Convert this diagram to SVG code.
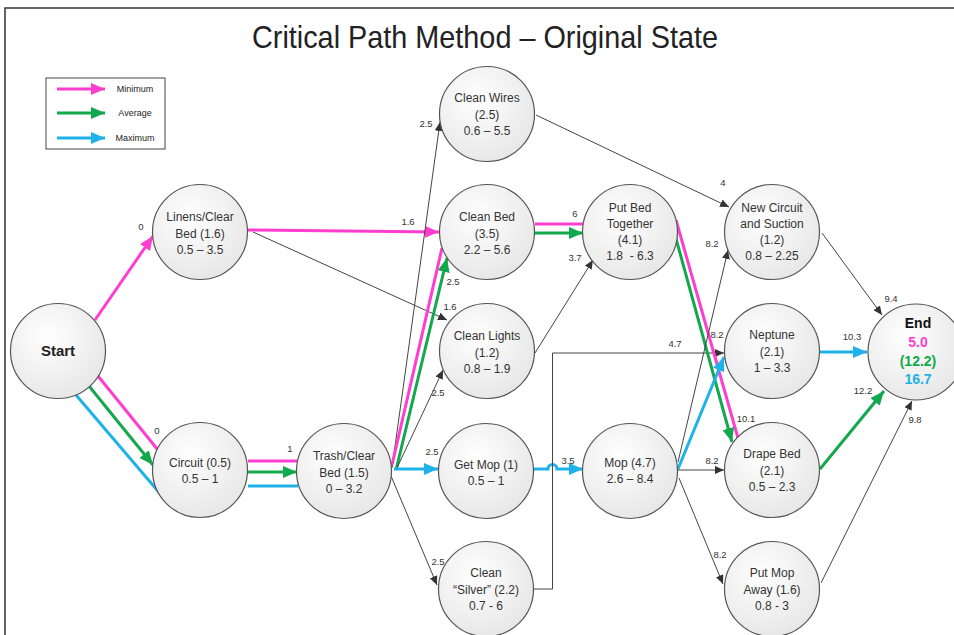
<svg xmlns="http://www.w3.org/2000/svg" width="954" height="635" viewBox="0 0 954 635">
<defs>
<radialGradient id="nodeFill" cx="40%" cy="35%" r="70%">
<stop offset="0" stop-color="#ffffff"/>
<stop offset="1" stop-color="#e6e6e6"/>
</radialGradient>
<marker id="aPink" markerUnits="userSpaceOnUse" markerWidth="14" markerHeight="12" viewBox="0 0 14 12" refX="14" refY="6" orient="auto"><path d="M0,0 L14,6 L0,12 z" fill="#ff3dcf"/></marker>
<marker id="aGreen" markerUnits="userSpaceOnUse" markerWidth="14" markerHeight="12" viewBox="0 0 14 12" refX="14" refY="6" orient="auto"><path d="M0,0 L14,6 L0,12 z" fill="#12a84e"/></marker>
<marker id="aBlue" markerUnits="userSpaceOnUse" markerWidth="14" markerHeight="12" viewBox="0 0 14 12" refX="14" refY="6" orient="auto"><path d="M0,0 L14,6 L0,12 z" fill="#1fb2e8"/></marker>
<marker id="aBlack" markerUnits="userSpaceOnUse" markerWidth="9" markerHeight="8" viewBox="0 0 9 8" refX="9" refY="4" orient="auto"><path d="M0,0 L9,4 L0,8 z" fill="#333"/></marker>
</defs>
<style>
.node circle{fill:url(#nodeFill);stroke:#555;stroke-width:1.2}
.node text{font-family:"Liberation Sans",Arial,sans-serif;font-size:12px;fill:#333;text-anchor:middle}
.lbl{font-family:"Liberation Sans",Arial,sans-serif;font-size:9.5px;fill:#333;text-anchor:middle}
.leg{font-family:"Liberation Sans",Arial,sans-serif;font-size:9px;fill:#222;text-anchor:middle}
.pk{stroke:#ff3dcf;stroke-width:3;fill:none}
.gr{stroke:#12a84e;stroke-width:3;fill:none}
.bl{stroke:#1fb2e8;stroke-width:3;fill:none}
.bk{stroke:#444;stroke-width:1;fill:none}
</style>
<rect x="0" y="0" width="954" height="635" fill="#ffffff"/>
<rect x="5" y="8" width="960" height="640" fill="none" stroke="#333" stroke-width="1.5"/>
<text x="485" y="48" font-family="'Liberation Sans',Arial,sans-serif" font-size="32" fill="#222" text-anchor="middle" textLength="466" lengthAdjust="spacingAndGlyphs">Critical Path Method – Original State</text>

<g id="legend">
<rect x="46" y="78" width="119" height="71" fill="#fff" stroke="#444" stroke-width="1"/>
<line x1="57" y1="89" x2="105" y2="89" class="pk" marker-end="url(#aPink)"/>
<line x1="57" y1="113" x2="105" y2="113" class="gr" marker-end="url(#aGreen)"/>
<line x1="57" y1="138" x2="105" y2="138" class="bl" marker-end="url(#aBlue)"/>
<text x="135" y="92" class="leg">Minimum</text>
<text x="135" y="116" class="leg">Average</text>
<text x="135" y="141" class="leg">Maximum</text>
</g>

<g id="connectors">
<line x1="95" y1="320" x2="153" y2="236" class="pk" marker-end="url(#aPink)"/>
<text x="141" y="230" class="lbl">0</text>
<line x1="98" y1="376" x2="158" y2="450" class="pk"/>
<line x1="89" y1="386" x2="153" y2="465" class="gr" marker-end="url(#aGreen)"/>
<line x1="76" y1="395" x2="163" y2="497" class="bl"/>
<text x="157" y="434" class="lbl">0</text>
<line x1="248" y1="461" x2="298" y2="461" class="pk"/>
<line x1="248" y1="472" x2="297" y2="472" class="gr" marker-end="url(#aGreen)"/>
<line x1="248" y1="486" x2="298" y2="486" class="bl"/>
<text x="290" y="452" class="lbl">1</text>
<line x1="248" y1="230" x2="439" y2="232" class="pk" marker-end="url(#aPink)"/>
<text x="408" y="225" class="lbl">1.6</text>
<line x1="253" y1="232" x2="447" y2="320" class="bk" marker-end="url(#aBlack)"/>
<text x="450" y="310" class="lbl">1.6</text>
<line x1="392" y1="468" x2="440" y2="122" class="bk" marker-end="url(#aBlack)"/>
<text x="426" y="127" class="lbl">2.5</text>
<line x1="392" y1="465" x2="442" y2="248" class="pk"/>
<line x1="396" y1="470" x2="447" y2="258" class="gr" marker-end="url(#aGreen)"/>
<text x="453" y="285" class="lbl">2.5</text>
<line x1="396" y1="470" x2="443" y2="370" class="bk" marker-end="url(#aBlack)"/>
<text x="438" y="396" class="lbl">2.5</text>
<line x1="394" y1="469" x2="438" y2="469" class="bl" marker-end="url(#aBlue)"/>
<text x="432" y="455" class="lbl">2.5</text>
<line x1="391" y1="476" x2="437" y2="585" class="bk" marker-end="url(#aBlack)"/>
<text x="438" y="565" class="lbl">2.5</text>
<path d="M533,469 H548 a4.5,4.5 0 0 1 9,0 H583" class="bl" marker-end="url(#aBlue)"/>
<text x="568" y="464" class="lbl">3.5</text>
<path d="M533,589 H552.5 V353 H724" class="bk" marker-end="url(#aBlack)"/>
<text x="675" y="347" class="lbl">4.7</text>
<line x1="536" y1="115" x2="729" y2="207" class="bk" marker-end="url(#aBlack)"/>
<text x="723" y="186" class="lbl">4</text>
<line x1="535" y1="224" x2="583" y2="224" class="pk"/>
<line x1="535" y1="233" x2="583" y2="233" class="gr" marker-end="url(#aGreen)"/>
<text x="575" y="217" class="lbl">6</text>
<line x1="535" y1="353" x2="593" y2="260" class="bk" marker-end="url(#aBlack)"/>
<text x="575" y="261" class="lbl">3.7</text>
<line x1="676" y1="220" x2="738" y2="438" class="pk"/>
<line x1="675" y1="235" x2="732" y2="442" class="gr" marker-end="url(#aGreen)"/>
<text x="746" y="422" class="lbl">10.1</text>
<line x1="678" y1="462" x2="728" y2="250" class="bk" marker-end="url(#aBlack)"/>
<text x="712" y="247" class="lbl">8.2</text>
<line x1="678" y1="469" x2="724" y2="357" class="bl" marker-end="url(#aBlue)"/>
<text x="717" y="338" class="lbl">8.2</text>
<line x1="678" y1="470" x2="724" y2="470" class="bk" marker-end="url(#aBlack)"/>
<text x="712" y="464" class="lbl">8.2</text>
<line x1="679" y1="478" x2="723" y2="584" class="bk" marker-end="url(#aBlack)"/>
<text x="720" y="558" class="lbl">8.2</text>
<line x1="822" y1="233" x2="882" y2="315" class="bk" marker-end="url(#aBlack)"/>
<text x="891" y="302" class="lbl">9.4</text>
<line x1="820" y1="352" x2="867" y2="352" class="bl" marker-end="url(#aBlue)"/>
<text x="852" y="340" class="lbl">10.3</text>
<line x1="820" y1="469" x2="884" y2="391" class="gr" marker-end="url(#aGreen)"/>
<text x="863" y="394" class="lbl">12.2</text>
<line x1="821" y1="583" x2="912" y2="401" class="bk" marker-end="url(#aBlack)"/>
<text x="915" y="423" class="lbl">9.8</text>
</g>

<g id="start" class="node"><circle cx="58" cy="351" r="47.5"/><text x="58" y="356" style="font-weight:bold;font-size:15px;fill:#222">Start</text></g>
<g id="linens" class="node"><circle cx="200" cy="232" r="47.5"/><text x="200" y="221">Linens/Clear</text><text x="200" y="237.5">Bed (1.6)</text><text x="200" y="254">0.5 – 3.5</text></g>
<g id="circuit" class="node"><circle cx="200" cy="470" r="47.5"/><text x="200" y="467">Circuit (0.5)</text><text x="200" y="483">0.5 – 1</text></g>
<g id="trash" class="node"><circle cx="344" cy="471" r="47.5"/><text x="344" y="460">Trash/Clear</text><text x="344" y="476.5">Bed (1.5)</text><text x="344" y="493">0 – 3.2</text></g>
<g id="cleanwires" class="node"><circle cx="487" cy="114" r="47.5"/><text x="487" y="102">Clean Wires</text><text x="487" y="118.5">(2.5)</text><text x="487" y="135">0.6 – 5.5</text></g>
<g id="cleanbed" class="node"><circle cx="487" cy="232" r="47.5"/><text x="487" y="221">Clean Bed</text><text x="487" y="237.5">(3.5)</text><text x="487" y="254">2.2 – 5.6</text></g>
<g id="cleanlights" class="node"><circle cx="487" cy="351" r="47.5"/><text x="487" y="340">Clean Lights</text><text x="487" y="356.5">(1.2)</text><text x="487" y="373">0.8 – 1.9</text></g>
<g id="getmop" class="node"><circle cx="486" cy="471" r="47.5"/><text x="486" y="469">Get Mop (1)</text><text x="486" y="485">0.5 – 1</text></g>
<g id="cleansilver" class="node"><circle cx="486" cy="589" r="47.5"/><text x="486" y="577">Clean</text><text x="486" y="593.5">“Silver” (2.2)</text><text x="486" y="610">0.7 - 6</text></g>
<g id="putbed" class="node"><circle cx="630" cy="232" r="47.5"/><text x="630" y="212">Put Bed</text><text x="630" y="228">Together</text><text x="630" y="244">(4.1)</text><text x="630" y="260" style="white-space:pre">1.8  - 6.3</text></g>
<g id="mop" class="node"><circle cx="630" cy="471" r="47.5"/><text x="630" y="467">Mop (4.7)</text><text x="630" y="483">2.6 – 8.4</text></g>
<g id="newcircuit" class="node"><circle cx="772" cy="232" r="47.5"/><text x="772" y="212">New Circuit</text><text x="772" y="228">and Suction</text><text x="772" y="244">(1.2)</text><text x="772" y="260">0.8 – 2.25</text></g>
<g id="neptune" class="node"><circle cx="772" cy="351" r="47.5"/><text x="772" y="339">Neptune</text><text x="772" y="355.5">(2.1)</text><text x="772" y="372">1 – 3.3</text></g>
<g id="drapebed" class="node"><circle cx="772" cy="470" r="47.5"/><text x="772" y="458">Drape Bed</text><text x="772" y="474.5">(2.1)</text><text x="772" y="491">0.5 – 2.3</text></g>
<g id="putmopaway" class="node"><circle cx="772" cy="589" r="47.5"/><text x="772" y="577">Put Mop</text><text x="772" y="593.5">Away (1.6)</text><text x="772" y="610">0.8 - 3</text></g>
<g id="end" class="node"><circle cx="916" cy="352" r="48"/>
<text x="918" y="328" style="font-weight:bold;font-size:14px;fill:#111">End</text>
<text x="918" y="347" style="font-weight:bold;font-size:14px;fill:#ff3dcf">5.0</text>
<text x="918" y="366" style="font-weight:bold;font-size:14px;fill:#12a84e">(12.2)</text>
<text x="918" y="384" style="font-weight:bold;font-size:14px;fill:#1fb2e8">16.7</text></g>
</svg>
